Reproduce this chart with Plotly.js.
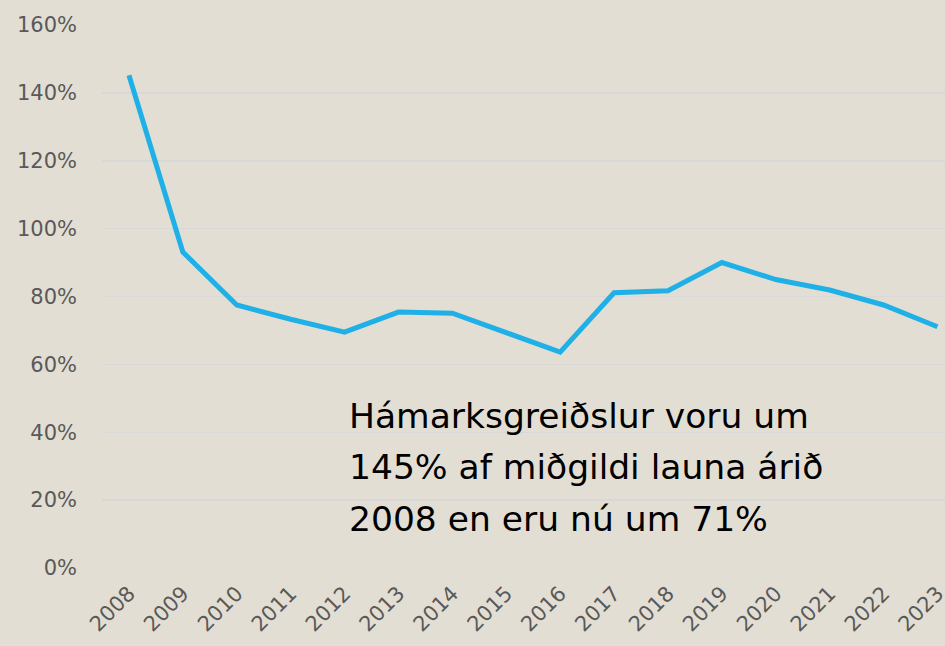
<!DOCTYPE html>
<html>
<head>
<meta charset="utf-8">
<script src="https://cdn.plot.ly/plotly-3.0.1.min.js"></script>
<style>
html,body{margin:0;padding:0;background:#e3ded3;}
#chart{width:945px;height:646px;}
</style>
</head>
<body>
<div id="chart"></div>
<script>
const years = ['2008','2009','2010','2011','2012','2013','2014','2015','2016','2017','2018','2019','2020','2021','2022','2023'];
const values = [145.2, 93.1, 77.5, 73.3, 69.5, 75.4, 75.1, 69.2, 63.6, 81.1, 81.7, 90.0, 85.0, 81.9, 77.5, 71.1];
const tickVals = [0, 20, 40, 60, 80, 100, 120, 140, 160];
const tickText = ['0%', '20%', '40%', '60%', '80%', '100%', '120%', '140%', '160%'];
const noteLines = ['Hámarksgreiðslur voru um', '145% af miðgildi launa árið', '2008 en eru nú um 71%'];

const trace = {
  x: years,
  y: values,
  type: 'scatter',
  mode: 'lines',
  line: {color: '#1eb0e6', width: 5, shape: 'linear'},
  hoverinfo: 'skip'
};

const plotTop = 25, plotBottom = 568, plotLeft = 102, plotW = 843;
const lineMid = [416, 467, 519];

const annotations = noteLines.map((t, i) => ({
  xref: 'paper', yref: 'paper',
  x: (347 - plotLeft) / plotW,
  y: (plotBottom - lineMid[i]) / (plotBottom - plotTop),
  xanchor: 'left', yanchor: 'middle', align: 'left',
  showarrow: false,
  text: t,
  font: {size: 34.5, color: '#000000', family: 'DejaVu Sans, sans-serif'}
}));

const layout = {
  width: 945,
  height: 646,
  paper_bgcolor: '#e3ded3',
  plot_bgcolor: '#e3ded3',
  margin: {l: 102, r: 0, t: 25, b: 78},
  showlegend: false,
  font: {family: 'DejaVu Sans, sans-serif', color: '#595959'},
  xaxis: {
    type: 'category',
    range: [-0.5, 15.14],
    showgrid: false,
    zeroline: false,
    showline: false,
    tickangle: -45,
    ticklabelstandoff: 8,
    tickfont: {size: 21, color: '#595959', family: 'DejaVu Sans, sans-serif'},
    ticks: '',
    automargin: false
  },
  yaxis: {
    range: [0, 160],
    tickvals: tickVals,
    ticktext: tickText,
    showgrid: true,
    gridcolor: '#d8d8d8',
    gridwidth: 1.5,
    zeroline: false,
    showline: false,
    ticks: '',
    ticklabelstandoff: 24,
    tickfont: {size: 21, color: '#595959', family: 'DejaVu Sans, sans-serif'},
    automargin: false
  },
  annotations: annotations
};

Plotly.newPlot('chart', [trace], layout, {displayModeBar: false, staticPlot: true});
</script>
</body>
</html>
